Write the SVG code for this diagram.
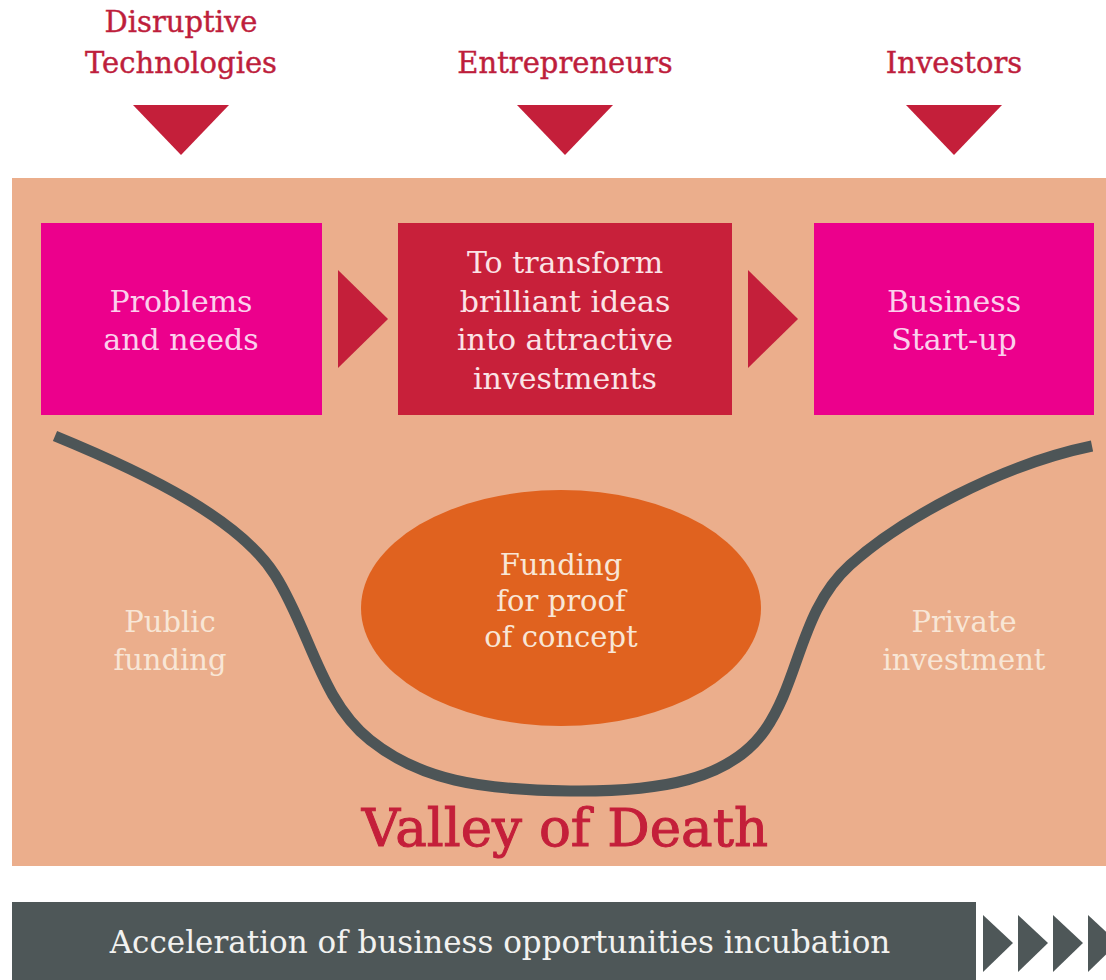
<svg xmlns="http://www.w3.org/2000/svg" width="1106" height="980" viewBox="0 0 1106 980">
<defs>
<style>
text{font-family:"DejaVu Serif","Liberation Serif",serif;text-anchor:middle}
.top{fill:#BE1E3C;font-size:29px;stroke:#BE1E3C;stroke-width:0.4}
.box{fill:#FBD0EC;font-size:30px}
.boxw{fill:#FBE3E6;font-size:30px}
.soft{fill:#F8E6D6;font-size:29px}
.pink{fill:#EC008C}
.red{fill:#C8203A}
.tri{fill:#C41F3A}
.dark{fill:#4E5758}
</style>
</defs>
<rect width="1106" height="980" fill="#FFFFFF"/>
<rect id="panel" x="12" y="178" width="1094" height="688" fill="#EBAE8C"/>

<g id="top-labels">
<g id="disruptive">
<text class="top" x="181" y="32">Disruptive</text>
<text class="top" x="181" y="73">Technologies</text>
<polygon class="tri" points="133,105 229,105 181,155"/>
</g>
<g id="entrepreneurs">
<text class="top" x="565" y="73">Entrepreneurs</text>
<polygon class="tri" points="517,105 613,105 565,155"/>
</g>
<g id="investors">
<text class="top" x="954" y="73">Investors</text>
<polygon class="tri" points="906,105 1002,105 954,155"/>
</g>
</g>

<g id="problems">
<rect class="pink" x="41" y="223" width="281" height="192"/>
<text class="box" x="181" y="312">Problems</text>
<text class="box" x="181" y="350">and needs</text>
</g>
<g id="transform">
<rect class="red" x="398" y="223" width="334" height="192"/>
<text class="boxw" x="565" y="273">To transform</text>
<text class="boxw" x="565" y="312">brilliant ideas</text>
<text class="boxw" x="565" y="350">into attractive</text>
<text class="boxw" x="565" y="389">investments</text>
</g>
<g id="startup">
<rect class="pink" x="814" y="223" width="280" height="192"/>
<text class="box" x="954" y="312">Business</text>
<text class="box" x="954" y="350">Start-up</text>
</g>

<g id="connectors">
<polygon class="tri" points="338,270 388,319 338,368"/>
<polygon class="tri" points="748,270 798,319 748,368"/>
<path d="M55,436 C150,475 240,520 275,575 C310,630 320,700 370,740 C420,780 480,790 570,791 C660,792 730,780 765,730 C800,680 800,610 850,565 C900,520 1000,465 1092,446" fill="none" stroke="#4D5557" stroke-width="11"/>
</g>

<g id="proof">
<ellipse cx="561" cy="608" rx="200" ry="118" fill="#E0621F"/>
<text class="soft" x="561" y="575">Funding</text>
<text class="soft" x="561" y="611">for proof</text>
<text class="soft" x="561" y="647">of concept</text>
</g>

<g id="public">
<text class="soft" x="170" y="632">Public</text>
<text class="soft" x="170" y="670">funding</text>
</g>
<g id="private">
<text class="soft" x="964" y="632">Private</text>
<text class="soft" x="964" y="670">investment</text>
</g>

<text id="valley" x="565" y="846" fill="#C41F3A" stroke="#C41F3A" stroke-width="1" font-size="53">Valley of Death</text>

<g id="acceleration">
<rect class="dark" x="12" y="902" width="964" height="78"/>
<text x="500" y="953" fill="#F2F2F0" font-size="31">Acceleration of business opportunities incubation</text>
<polygon class="dark" points="983,915 1013,943 983,972"/>
<polygon class="dark" points="1018,915 1048,943 1018,972"/>
<polygon class="dark" points="1053,915 1083,943 1053,972"/>
<polygon class="dark" points="1088,915 1118,943 1088,972"/>
</g>
</svg>
